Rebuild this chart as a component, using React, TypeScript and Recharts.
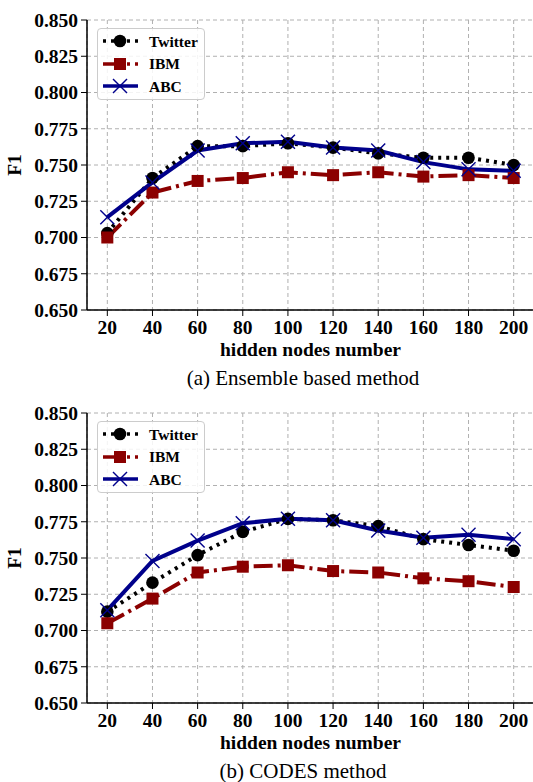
import React from 'react'
import { LineChart, Line, XAxis, YAxis, CartesianGrid } from 'recharts'

const xValues = [20, 40, 60, 80, 100, 120, 140, 160, 180, 200]
const yTicks = [0.65, 0.675, 0.7, 0.725, 0.75, 0.775, 0.8, 0.825, 0.85]

// (a) Ensemble based method
const twitterA = [0.703, 0.741, 0.763, 0.763, 0.765, 0.762, 0.758, 0.755, 0.755, 0.750]
const ibmA = [0.700, 0.731, 0.739, 0.741, 0.745, 0.743, 0.745, 0.742, 0.743, 0.741]
const abcA = [0.714, 0.738, 0.760, 0.765, 0.766, 0.762, 0.760, 0.752, 0.747, 0.746]

// (b) CODES method
const twitterB = [0.713, 0.733, 0.752, 0.768, 0.777, 0.776, 0.772, 0.763, 0.759, 0.755]
const ibmB = [0.705, 0.722, 0.740, 0.744, 0.745, 0.741, 0.740, 0.736, 0.734, 0.730]
const abcB = [0.714, 0.748, 0.762, 0.774, 0.777, 0.776, 0.769, 0.764, 0.766, 0.763]

const FONT = 'Liberation Serif, serif'

const series = [
  { key: 'twitter', name: 'Twitter', color: '#000000', dash: '3 5', marker: 'circle' },
  { key: 'ibm', name: 'IBM', color: '#8b0000', dash: '19 5 3 5', marker: 'square' },
  { key: 'abc', name: 'ABC', color: '#00008b', dash: undefined, marker: 'x' },
]

function Marker({ kind, cx, cy, color }: { kind: string; cx: number; cy: number; color: string }) {
  if (kind === 'circle') return <circle cx={cx} cy={cy} r={6.3} fill={color} />
  if (kind === 'square') return <rect x={cx - 6} y={cy - 6} width={12} height={12} fill={color} />
  return (
    <g stroke={color} strokeWidth={1.4}>
      <line x1={cx - 7} y1={cy - 7} x2={cx + 7} y2={cy + 7} />
      <line x1={cx - 7} y1={cy + 7} x2={cx + 7} y2={cy - 7} />
    </g>
  )
}

function LegendBox() {
  return (
    <div
      style={{
        position: 'absolute',
        left: 97,
        top: 28,
        border: '1px solid #cccccc',
        borderRadius: 4,
        background: 'rgba(255,255,255,0.85)',
        width: 106,
        padding: '1px 0',
        fontFamily: FONT,
        fontWeight: 'bold',
        fontSize: 15.5,
        lineHeight: 1,
      }}
    >
      {series.map((s) => (
        <div key={s.key} style={{ display: 'flex', alignItems: 'center', height: 22.5 }}>
          <svg width={48} height={22} style={{ display: 'block' }}>
            <line x1={5} y1={11} x2={40} y2={11} stroke={s.color} strokeWidth={3.5} strokeDasharray={s.dash} />
            <Marker kind={s.marker} cx={22} cy={11} color={s.color} />
          </svg>
          <span style={{ marginLeft: 3 }}>{s.name}</span>
        </div>
      ))}
    </div>
  )
}

function Panel({ twitter, ibm, abc, caption, top }: { twitter: number[]; ibm: number[]; abc: number[]; caption: string; top: number }) {
  const data = xValues.map((x, i) => ({ x, twitter: twitter[i], ibm: ibm[i], abc: abc[i] }))
  const tickStyle = { fontFamily: FONT, fontWeight: 'bold' as const, fontSize: 19.5, fill: '#000' }
  return (
    <div style={{ position: 'absolute', left: 0, top, width: 533, height: 389 }}>
      <LineChart width={540} height={360} data={data} margin={{ top: 20, right: 6, bottom: 4, left: 0 }}>
        <CartesianGrid stroke="#b0b0b0" strokeDasharray="4 3" />
        <XAxis
          dataKey="x"
          type="number"
          domain={[11, 209]}
          ticks={xValues}
          allowDataOverflow
          height={46}
          tickSize={6}
          tickMargin={4}
          tick={tickStyle}
          axisLine={{ stroke: '#000', strokeWidth: 1.5 }}
          tickLine={{ stroke: '#000' }}
          label={{ value: 'hidden nodes number', position: 'insideBottom', offset: 0, style: { ...tickStyle } }}
        />
        <YAxis
          type="number"
          domain={[0.65, 0.85]}
          ticks={yTicks}
          allowDataOverflow
          width={87}
          tickSize={6}
          tickMargin={3}
          tick={tickStyle}
          tickFormatter={(v: number) => v.toFixed(3)}
          axisLine={{ stroke: '#000', strokeWidth: 1.5 }}
          tickLine={{ stroke: '#000' }}
          label={{
            content: (props: any) => {
              const vb = props.viewBox
              const cx = vb.x + 14
              const cy = vb.y + vb.height / 2
              return (
                <text x={cx} y={cy} transform={`rotate(-90, ${cx}, ${cy})`} textAnchor="middle" dominantBaseline="central" style={tickStyle}>
                  F1
                </text>
              )
            },
          }}
        />
        {series.map((s) => (
          <Line
            key={s.key}
            dataKey={s.key}
            name={s.name}
            type="linear"
            stroke={s.color}
            strokeWidth={4}
            strokeDasharray={s.dash}
            isAnimationActive={false}
            dot={(p: any) => <Marker key={`${s.key}-${p.index}`} kind={s.marker} cx={p.cx} cy={p.cy} color={s.color} />}
            activeDot={false}
          />
        ))}
      </LineChart>
      <LegendBox />
      <div
        style={{
          position: 'absolute',
          left: 0,
          width: 606,
          top: 368,
          lineHeight: '21px',
          textAlign: 'center',
          fontFamily: FONT,
          fontSize: 21,
          color: '#000',
        }}
      >
        {caption}
      </div>
    </div>
  )
}

export default function App() {
  return (
    <div style={{ position: 'absolute', left: 0, top: 0, width: 533, height: 782, overflow: 'hidden', background: '#fff' }}>
      <Panel twitter={twitterA} ibm={ibmA} abc={abcA} caption="(a) Ensemble based method" top={0} />
      <Panel twitter={twitterB} ibm={ibmB} abc={abcB} caption="(b) CODES method" top={393} />
    </div>
  )
}
